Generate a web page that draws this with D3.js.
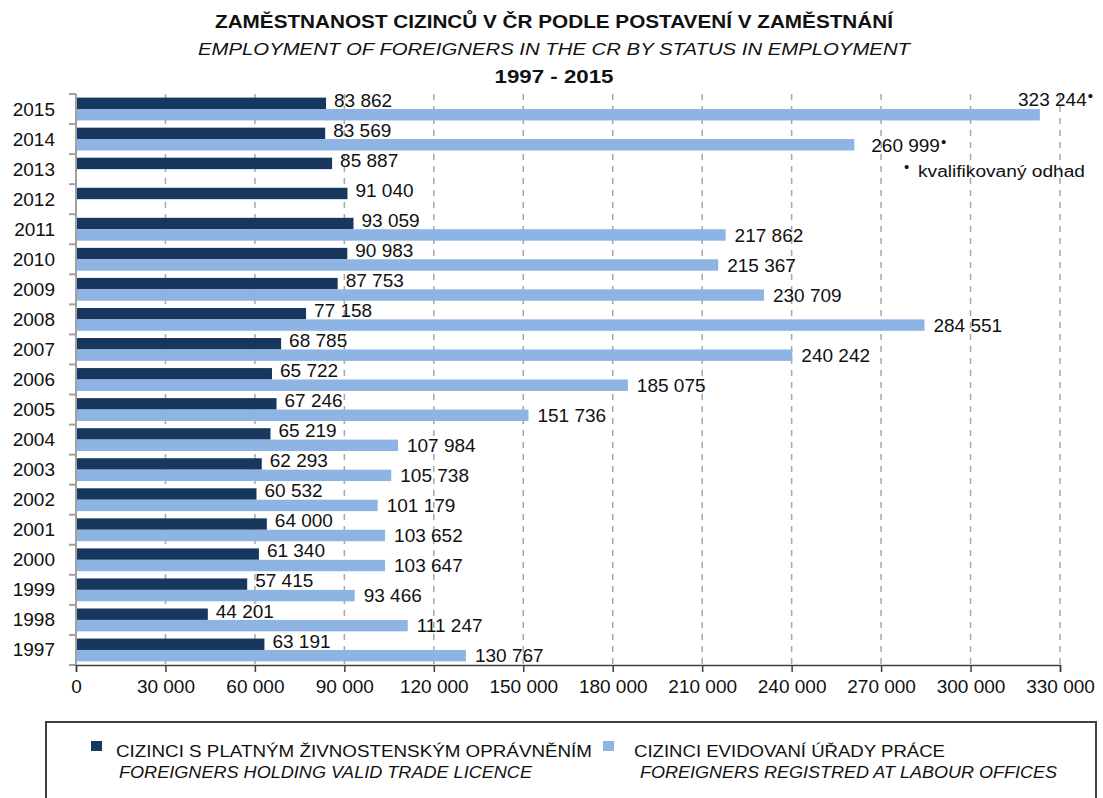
<!DOCTYPE html>
<html>
<head>
<meta charset="utf-8">
<script src="https://cdn.jsdelivr.net/npm/d3@7"></script>
<style>
  body { margin: 0; background: #fff; }
  svg { display: block; font-family: "Liberation Sans", Arial, sans-serif; }
</style>
</head>
<body>
<div id="chart"></div>
<script>
// data
var YEARS = ["1997","1998","1999","2000","2001","2002","2003","2004","2005","2006",
             "2007","2008","2009","2010","2011","2012","2013","2014","2015"];
var TRADE = [63191,44201,57415,61340,64000,60532,62293,65219,67246,65722,
             68785,77158,87753,90983,93059,91040,85887,83569,83862];
var LABOUR = [130767,111247,93466,103647,103652,101179,105738,107984,151736,185075,
              240242,284551,230709,215367,217862,null,null,260999,323244];
// labour values that are a qualified estimate
var ESTIMATE = ["2014","2015"];
var X_TICKS = [0,30000,60000,90000,120000,150000,180000,210000,240000,270000,300000,330000];

var TITLE1 = "ZAMĚSTNANOST  CIZINCŮ V ČR PODLE POSTAVENÍ V ZAMĚSTNÁNÍ";
var TITLE2 = "EMPLOYMENT OF FOREIGNERS  IN THE  CR BY STATUS IN EMPLOYMENT";
var TITLE3 = "1997 - 2015";
var NOTE = "kvalifikovaný odhad";
var LEGEND_CZ = ["CIZINCI S PLATNÝM ŽIVNOSTENSKÝM OPRÁVNĚNÍM", "CIZINCI EVIDOVANÍ ÚŘADY PRÁCE"];
var LEGEND_EN = ["FOREIGNERS HOLDING VALID TRADE LICENCE", "FOREIGNERS REGISTRED AT LABOUR OFFICES"];

var DARK = "#17375e";
var LIGHT = "#8db4e2";

var WIDTH = 1103, HEIGHT = 798;
var LEFT = 76, RIGHT = 1060, TOP = 94, BOTTOM = 665;

var svg = d3.select("#chart").append("svg")
  .attr("width", WIDTH)
  .attr("height", HEIGHT);

var loc = d3.formatLocale({decimal: ",", thousands: " ", grouping: [3], currency: ["", ""]});
var fmt = loc.format(",d");

var x = d3.scaleLinear().domain([0, 330000]).range([LEFT, RIGHT]);
var y = d3.scaleBand().domain(YEARS.slice().reverse()).range([TOP, BOTTOM])
  .paddingInner(0.24).paddingOuter(0.12);
var ySub = d3.scaleBand().domain(["trade", "labour"]).range([0, y.bandwidth()]);
var STEP = y.step();

// titles
var titles = [
  {t: TITLE1, y: 28, len: 678, w: "bold", s: "normal", size: 18},
  {t: TITLE2, y: 55, len: 712, w: "normal", s: "italic", size: 17},
  {t: TITLE3, y: 83, len: 119, w: "bold", s: "normal", size: 18}
];
titles.forEach(function(d){
  svg.append("text")
    .attr("x", 554).attr("y", d.y)
    .attr("text-anchor", "middle")
    .attr("font-size", d.size)
    .attr("font-weight", d.w)
    .attr("font-style", d.s)
    .attr("textLength", d.len)
    .attr("lengthAdjust", "spacingAndGlyphs")
    .attr("fill", "#111")
    .text(d.t);
});

// dashed grid
svg.append("g").selectAll("line")
  .data(X_TICKS.slice(1))
  .join("line")
  .attr("x1", function(d){ return x(d); })
  .attr("x2", function(d){ return x(d); })
  .attr("y1", TOP).attr("y2", BOTTOM)
  .attr("stroke", "#a6a6a6")
  .attr("stroke-width", 1.5)
  .attr("stroke-dasharray", "6,6");

// bars
var rows = YEARS.map(function(yr, i){
  return {year: yr, trade: TRADE[i], labour: LABOUR[i]};
});

var g = svg.append("g");
g.selectAll("rect.trade")
  .data(rows)
  .join("rect")
  .attr("class", "trade")
  .attr("x", x(0))
  .attr("y", function(d){ return y(d.year) + ySub("trade"); })
  .attr("width", function(d){ return x(d.trade) - x(0); })
  .attr("height", ySub.bandwidth())
  .attr("fill", DARK);

g.selectAll("rect.labour")
  .data(rows.filter(function(d){ return d.labour != null; }))
  .join("rect")
  .attr("class", "labour")
  .attr("x", x(0))
  .attr("y", function(d){ return y(d.year) + ySub("labour"); })
  .attr("width", function(d){ return x(d.labour) - x(0); })
  .attr("height", ySub.bandwidth())
  .attr("fill", LIGHT);

// value labels
var LABEL_SIZE = 19;
g.selectAll("text.trade")
  .data(rows)
  .join("text")
  .attr("class", "trade")
  .attr("x", function(d){ return x(d.trade) + 8; })
  .attr("y", function(d){ return y(d.year) + ySub("trade") + ySub.bandwidth()/2 - 3.5 + 6.8; })
  .attr("font-size", LABEL_SIZE)
  .attr("fill", "#111")
  .text(function(d){ return fmt(d.trade); });

rows.filter(function(d){ return d.labour != null; }).forEach(function(d){
  var est = ESTIMATE.indexOf(d.year) >= 0;
  var t = g.append("text")
    .attr("font-size", LABEL_SIZE)
    .attr("fill", "#111");
  t.append("tspan").text(fmt(d.labour));
  if(est){
    t.append("tspan").attr("font-size", 15).attr("dy", -5).attr("dx", 1).text("•");
  }
  var bx = x(d.labour) + 8;
  var w = t.node().getComputedTextLength();
  if(bx + w > WIDTH - 8){
    // no room right of the bar: put it above, against the edge
    t.attr("text-anchor", "end")
      .attr("x", WIDTH - 10)
      .attr("y", y(d.year) + ySub("trade") + ySub.bandwidth()/2 - 4 + 6.8);
  } else {
    t.attr("x", x(d.labour) + (est ? 17 : 9))
      .attr("y", y(d.year) + ySub("labour") + ySub.bandwidth()/2 + 6.8);
  }
});

// estimate note
var note = svg.append("g").attr("transform", "translate(904,177)");
note.append("text").attr("x", 0).attr("y", -5).attr("font-size", 15).attr("fill", "#111").text("•");
note.append("text").attr("x", 14).attr("y", 0)
  .attr("font-size", 16)
  .attr("textLength", 167)
  .attr("lengthAdjust", "spacingAndGlyphs")
  .attr("fill", "#111")
  .text(NOTE);

// y axis
svg.append("line")
  .attr("x1", LEFT).attr("x2", LEFT)
  .attr("y1", TOP).attr("y2", BOTTOM)
  .attr("stroke", "#a0a0a0").attr("stroke-width", 2);
svg.append("g").selectAll("line")
  .data(d3.range(YEARS.length + 1))
  .join("line")
  .attr("x1", LEFT - 7).attr("x2", LEFT)
  .attr("y1", function(i){ return TOP + i * STEP; })
  .attr("y2", function(i){ return TOP + i * STEP; })
  .attr("stroke", "#a0a0a0").attr("stroke-width", 2);
svg.append("g").selectAll("text")
  .data(YEARS)
  .join("text")
  .attr("x", 55)
  .attr("y", function(d){ return y(d) + y.bandwidth()/2 + 6.5; })
  .attr("text-anchor", "end")
  .attr("font-size", LABEL_SIZE)
  .attr("fill", "#111")
  .text(function(d){ return d; });

// x axis
var xAxis = d3.axisBottom(x).tickValues(X_TICKS).tickSize(7).tickPadding(8)
  .tickFormat(function(d){ return fmt(d); });
var ax = svg.append("g")
  .attr("transform", "translate(0," + BOTTOM + ")")
  .call(xAxis);
ax.select(".domain").attr("stroke", "#404040").attr("stroke-width", 1.5);
ax.selectAll(".tick line").attr("stroke", "#404040").attr("stroke-width", 1.5);
ax.selectAll(".tick text")
  .attr("font-size", LABEL_SIZE)
  .attr("font-family", "Liberation Sans, Arial, sans-serif")
  .attr("fill", "#111");

// legend
svg.append("rect")
  .attr("x", 46).attr("y", 722)
  .attr("width", 1050).attr("height", 120)
  .attr("fill", "none")
  .attr("stroke", "#404040").attr("stroke-width", 2);

var LEG = [
  {c: DARK, sx: 91, tx: 116, cz: 476, ix: 119, en: 413},
  {c: LIGHT, sx: 603, tx: 634, cz: 311, ix: 640, en: 417}
];
LEG.forEach(function(d, i){
  svg.append("rect")
    .attr("x", d.sx).attr("y", 741)
    .attr("width", 11).attr("height", 10)
    .attr("fill", d.c);
  svg.append("text")
    .attr("x", d.tx).attr("y", 757)
    .attr("font-size", 17)
    .attr("textLength", d.cz)
    .attr("lengthAdjust", "spacingAndGlyphs")
    .attr("fill", "#111")
    .text(LEGEND_CZ[i]);
  svg.append("text")
    .attr("x", d.ix).attr("y", 778)
    .attr("font-size", 17)
    .attr("font-style", "italic")
    .attr("textLength", d.en)
    .attr("lengthAdjust", "spacingAndGlyphs")
    .attr("fill", "#111")
    .text(LEGEND_EN[i]);
});
</script>
</body>
</html>
